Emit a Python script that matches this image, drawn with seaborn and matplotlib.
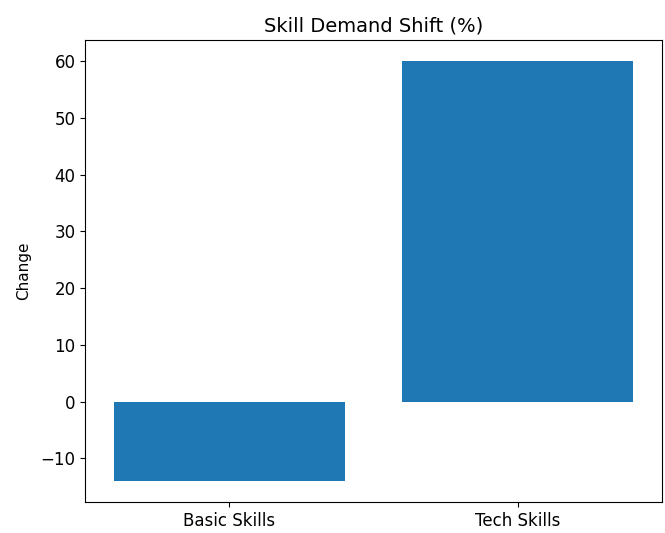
import pandas as pd
import matplotlib
matplotlib.use('Agg')
import matplotlib.pyplot as plt
import seaborn as sns

# Datos del gráfico
skills = ['Basic Skills', 'Tech Skills']
change = [-14, 60]

df = pd.DataFrame({'Skill': skills, 'Change': change})

fig, ax = plt.subplots(figsize=(6.65, 5.33), dpi=100)
sns.barplot(data=df, x='Skill', y='Change', color='#1f77b4', saturation=1,
            width=0.8, ax=ax)
ax.set_title('Skill Demand Shift (%)', fontsize=14)
ax.set_xlabel('')
ax.set_ylabel('Change', fontsize=11, labelpad=7)
ax.tick_params(labelsize=12)

plt.subplots_adjust(left=0.128, right=0.995, top=0.925, bottom=0.058)
plt.savefig('out.png', dpi=100)
